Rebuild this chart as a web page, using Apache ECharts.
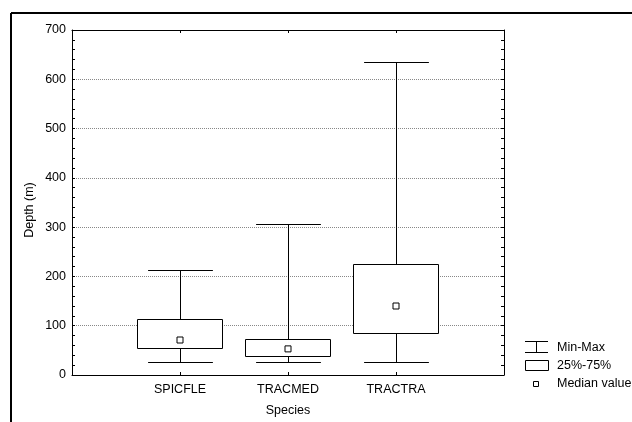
<!DOCTYPE html>
<html>
<head>
<meta charset="utf-8">
<script src="https://cdn.jsdelivr.net/npm/echarts@6/dist/echarts.min.js"></script>
<style>
  html, body { margin: 0; padding: 0; background: #fff; }
  #chart { width: 632px; height: 422px; }
</style>
</head>
<body>
<div id="chart"></div>
<script>
// Depth distribution per species: min/max whiskers, 25%-75% box, median marker
const categories = ['SPICFLE', 'TRACMED', 'TRACTRA'];
const minValues = [25, 25, 26];
const q1Values = [54, 37, 85];
const medianValues = [71, 53, 140];
const q3Values = [113, 72, 224];
const maxValues = [213, 306, 635];

const FONT = 'Liberation Sans, Arial, sans-serif';
const FS = 12.5;
const BOX_W = 0.78;   // box width in category units
const CAP_W = 0.6;    // whisker cap width in category units

const crisp = v => Math.round(v - 0.5) + 0.5;

const whiskerData = categories.map((c, i) => [i + 1, minValues[i], maxValues[i]]);
const boxData = categories.map((c, i) => [i + 1, q1Values[i], q3Values[i]]);
const medianData = categories.map((c, i) => [i + 1, medianValues[i]]);

const chart = echarts.init(document.getElementById('chart'), null, { renderer: 'canvas' });

const axisLineStyle = { color: '#000', width: 1 };

const option = {
  animation: false,
  backgroundColor: '#fff',
  textStyle: { fontFamily: FONT },
  grid: { left: 72, right: 128, top: 30, bottom: 46 },
  xAxis: [
    {
      type: 'value', position: 'bottom', min: 0, max: 4, interval: 1,
      axisLine: { show: true, onZero: false, lineStyle: axisLineStyle },
      axisTick: { show: true, inside: true, length: 3, lineStyle: axisLineStyle },
      axisLabel: {
        color: '#000', fontSize: FS, fontFamily: FONT, margin: 8,
        formatter: v => categories[v - 1] || ''
      },
      splitLine: { show: false },
      name: 'Species', nameLocation: 'middle', nameGap: 29,
      nameTextStyle: { color: '#000', fontSize: FS, fontFamily: FONT }
    },
    {
      type: 'value', position: 'top', min: 0, max: 4, interval: 1,
      axisLine: { show: true, onZero: false, lineStyle: axisLineStyle },
      axisTick: { show: true, inside: true, length: 3, lineStyle: axisLineStyle },
      axisLabel: { show: false },
      splitLine: { show: false }
    }
  ],
  yAxis: [
    {
      type: 'value', position: 'left', min: 0, max: 700, interval: 100,
      axisLine: { show: true, onZero: false, lineStyle: axisLineStyle },
      axisTick: { show: true, inside: true, length: 3, lineStyle: axisLineStyle },
      minorTick: { show: true, splitNumber: 5, length: 3, lineStyle: { color: '#000' } },
      axisLabel: { color: '#000', fontSize: FS, fontFamily: FONT, margin: 6 },
      splitLine: { show: true, lineStyle: { color: '#888', width: 1, type: [1, 1] } }
    },
    {
      type: 'value', position: 'right', min: 0, max: 700, interval: 100,
      axisLine: { show: true, onZero: false, lineStyle: axisLineStyle },
      axisTick: { show: true, inside: true, length: 3, lineStyle: axisLineStyle },
      minorTick: { show: true, splitNumber: 5, length: 3, lineStyle: { color: '#000' } },
      axisLabel: { show: false },
      splitLine: { show: false }
    }
  ],
  series: [
    {
      name: 'Min-Max',
      type: 'custom',
      xAxisIndex: 0, yAxisIndex: 0,
      data: whiskerData,
      renderItem: function (params, api) {
        const x = api.value(0);
        const lo = api.coord([x, api.value(1)]);
        const hi = api.coord([x, api.value(2)]);
        const half = api.size([CAP_W, 0])[0] / 2;
        const cx = crisp(lo[0]);
        const yLo = crisp(lo[1]);
        const yHi = crisp(hi[1]);
        const style = { stroke: '#000', lineWidth: 1, fill: null };
        return {
          type: 'group',
          children: [
            { type: 'line', shape: { x1: cx, y1: yLo, x2: cx, y2: yHi }, style },
            { type: 'line', shape: { x1: cx - half, y1: yHi, x2: cx + half, y2: yHi }, style },
            { type: 'line', shape: { x1: cx - half, y1: yLo, x2: cx + half, y2: yLo }, style }
          ]
        };
      },
      z: 2
    },
    {
      name: '25%-75%',
      type: 'custom',
      xAxisIndex: 0, yAxisIndex: 0,
      data: boxData,
      renderItem: function (params, api) {
        const x = api.value(0);
        const lo = api.coord([x, api.value(1)]);
        const hi = api.coord([x, api.value(2)]);
        const half = api.size([BOX_W, 0])[0] / 2;
        const x0 = crisp(lo[0] - half);
        const x1 = crisp(lo[0] + half);
        const y0 = crisp(hi[1]);
        const y1 = crisp(lo[1]);
        return {
          type: 'rect',
          shape: { x: x0, y: y0, width: x1 - x0, height: y1 - y0 },
          style: { fill: '#fff', stroke: '#000', lineWidth: 1 }
        };
      },
      z: 3
    },
    {
      name: 'Median value',
      type: 'scatter',
      xAxisIndex: 0, yAxisIndex: 0,
      data: medianData,
      symbol: 'rect',
      symbolSize: 6,
      itemStyle: { color: '#fff', borderColor: '#000', borderWidth: 1, opacity: 1 },
      z: 4
    }
  ],
  graphic: [
    // outer frame (top and left)
    { type: 'line', shape: { x1: 11, y1: 13, x2: 632, y2: 13 }, style: { stroke: '#000', lineWidth: 2 }, z: 10 },
    { type: 'line', shape: { x1: 11, y1: 13, x2: 11, y2: 422 }, style: { stroke: '#000', lineWidth: 2 }, z: 10 },
    // y axis title
    {
      type: 'text', x: 30, y: 210, rotation: Math.PI / 2,
      style: { text: 'Depth (m)', fill: '#000', font: FS + 'px ' + FONT, align: 'center', verticalAlign: 'middle' },
      z: 10
    },
    // legend
    { type: 'line', shape: { x1: 525, y1: 341.5, x2: 548, y2: 341.5 }, style: { stroke: '#000', lineWidth: 1 }, z: 10 },
    { type: 'line', shape: { x1: 525, y1: 352.5, x2: 548, y2: 352.5 }, style: { stroke: '#000', lineWidth: 1 }, z: 10 },
    { type: 'line', shape: { x1: 536.5, y1: 341.5, x2: 536.5, y2: 352.5 }, style: { stroke: '#000', lineWidth: 1 }, z: 10 },
    { type: 'text', x: 557, y: 348, style: { text: 'Min-Max', fill: '#000', font: FS + 'px ' + FONT, verticalAlign: 'middle' }, z: 10 },
    { type: 'rect', shape: { x: 525.5, y: 360.5, width: 23, height: 10 }, style: { fill: '#fff', stroke: '#000', lineWidth: 1 }, z: 10 },
    { type: 'text', x: 557, y: 366, style: { text: '25%-75%', fill: '#000', font: FS + 'px ' + FONT, verticalAlign: 'middle' }, z: 10 },
    { type: 'rect', shape: { x: 533.5, y: 381.5, width: 5, height: 5 }, style: { fill: '#fff', stroke: '#000', lineWidth: 1 }, z: 10 },
    { type: 'text', x: 557, y: 384, style: { text: 'Median value', fill: '#000', font: FS + 'px ' + FONT, verticalAlign: 'middle' }, z: 10 }
  ]
};

chart.setOption(option);
</script>
</body>
</html>
